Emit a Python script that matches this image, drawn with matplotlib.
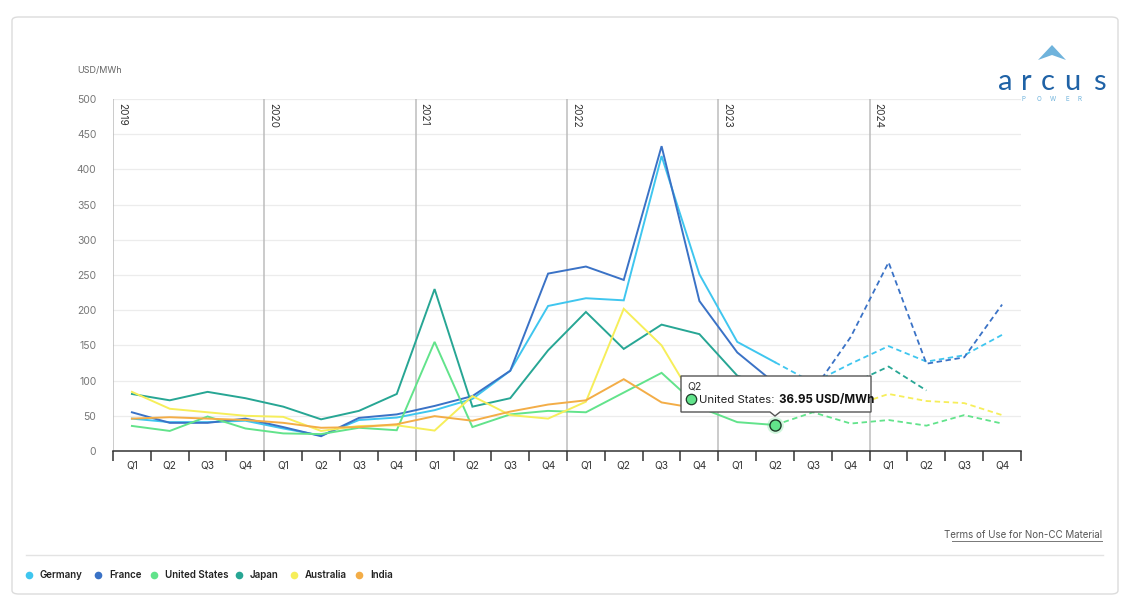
import numpy as np
import matplotlib
matplotlib.use("Agg")
import matplotlib.pyplot as plt
from matplotlib.patches import FancyBboxPatch, Polygon
from matplotlib.lines import Line2D

plt.rcParams['font.family'] = ['Inter', 'DejaVu Sans']

years = ["2019", "2020", "2021", "2022", "2023", "2024"]
quarters = ["Q1", "Q2", "Q3", "Q4"]
nan = np.nan

germany = [46, 41, 41, 43, 32, 22, 44, 47.5, 58, 74, 114, 206,
           217, 214, 419, 251, 155, 126, 97, 124, 149, 127, 136, 165]
france = [55, 40, 40, 46, 34, 21, 47, 52, 64, 78, 114, 252,
          262, 243, 433, 213, 140, 96, 85, 162, 268, 124, 133, 208]
united_states = [35.6, 28.5, 49, 32, 25, 24, 33, 29.5, 155, 34, 52, 57,
                 55, 83, 111, 62, 41, 36.95, 55, 39, 44, 36, 51, 39]
japan = [81, 72, 84, 75, 63, 45, 57, 81, 230, 63, 75, 143,
         197.5, 145, 179.5, 166, 107, 90, 85, 95, 120, 86, nan, nan]
australia = [84, 60, 55, 50, 48.5, 28.5, 35.5, 36.5, 29, 78, 51, 46,
             70, 202, 150, 60, 62, 60, 58, 63, 81, 71, 68, 51]
india = [46, 48, 46, 44, 40, 33, 34, 38, 49.5, 43, 56, 66,
         72, 102, 69, 60, nan, nan, nan, nan, nan, nan, nan, nan]

series_names = ["Germany", "France", "United States", "Japan", "Australia", "India"]
series_values = [germany, france, united_states, japan, australia, india]
colors = ["#3fc6ef", "#3a72c6", "#62e38b", "#27a694", "#f6ee5a", "#f3ad47"]
forecast_start = 17  # index of Q2 2023 (last actual point)

tooltip_series = "United States"
tooltip_index = 17
tooltip_value = 36.95

W, H = 1128, 604
fig = plt.figure(figsize=(W / 100, H / 100), dpi=100)

def fx(x):
    return x / W

def fy(y):
    return 1 - y / H

# card
card = FancyBboxPatch((fx(12), fy(594)), fx(1118) - fx(12), fy(17) - fy(594),
                      boxstyle="round,pad=0,rounding_size=0.006",
                      transform=fig.transFigure, facecolor="white",
                      edgecolor="#dcdcdc", linewidth=1, zorder=-10)
fig.patches.append(card)

ax = fig.add_axes([fx(113), fy(451), fx(1021) - fx(113), fy(99) - fy(451)])
ax.set_facecolor("none")
n = len(years) * len(quarters)
x = np.arange(n)

# gridlines
for v in range(50, 501, 50):
    ax.axhline(v, color="#ececec", lw=0.9, zorder=0)

# year lines
for yi, yr in enumerate(years):
    xb = yi * 4 - 0.5
    ax.axvline(xb, color="#bdbdbd", lw=1.1, zorder=1)
    ax.text(xb + 0.1, 494, yr, rotation=270, va="top", ha="left",
            fontsize=7.2, color="#333333")

for name, vals, c in zip(series_names, series_values, colors):
    v = np.array(vals, dtype=float)
    ax.plot(x[:forecast_start + 1], v[:forecast_start + 1], color=c, lw=1.4,
            zorder=3, solid_joinstyle="miter")
    ax.plot(x[forecast_start:], v[forecast_start:], color=c, lw=1.3,
            linestyle=(0, (3, 2)), zorder=3)

ax.set_xlim(-0.5, n - 0.5)
ax.set_ylim(0, 500)
ax.set_yticks(range(0, 501, 50))
ax.tick_params(axis="y", length=0, pad=12, labelsize=7.5, labelcolor="#777777")
ax.set_xticks(x)
ax.set_xticklabels(quarters * len(years))
ax.tick_params(axis="x", which="major", length=0, pad=7, labelsize=7.3,
               labelcolor="#333333")
ax.set_xticks(np.arange(-0.5, n, 1.0), minor=True)
ax.tick_params(axis="x", which="minor", length=7, width=1.1, color="#333333",
               direction="out")
for s in ["top", "right", "left"]:
    ax.spines[s].set_visible(False)
ax.spines["bottom"].set_color("#333333")
ax.spines["bottom"].set_linewidth(1.1)

# highlighted point
ti = series_names.index(tooltip_series)
ax.plot([tooltip_index], [tooltip_value], "o", ms=12, color=colors[ti], alpha=0.3,
        zorder=4, mec="none")
ax.plot([tooltip_index], [tooltip_value], "o", ms=8, color=colors[ti],
        mec="#1f3b2a", mew=1.0, zorder=5)

# tooltip
bx0, by0, bx1, by1 = 681, 376, 871, 412
tip = Polygon([[fx(bx0), fy(by0)], [fx(bx1), fy(by0)], [fx(bx1), fy(by1)],
               [fx(780), fy(by1)], [fx(775), fy(416)], [fx(770), fy(by1)],
               [fx(bx0), fy(by1)]], closed=True, transform=fig.transFigure,
              facecolor="white", edgecolor="#555555", linewidth=1.0, zorder=10)
fig.patches.append(tip)
fig.text(fx(687), fy(386), "Q2", fontsize=7.5, color="#333333", va="center",
         ha="left", zorder=11)
fig.add_artist(Line2D([fx(691)], [fy(399)], marker="o", ms=7.5,
                      color=colors[ti], mec="#1f3b2a", mew=0.9,
                      transform=fig.transFigure, zorder=11))
fig.text(fx(699), fy(400), f"{tooltip_series}:", fontsize=8.2,
         color="#222222", va="center", ha="left", zorder=11)
fig.text(fx(779), fy(400), f"{tooltip_value:.2f} USD/MWh", fontsize=8.3,
         color="#111111", va="center", ha="left", fontweight="bold", zorder=11)

# unit label
fig.text(fx(77), fy(70), "USD/MWh", fontsize=6.5, color="#666666",
         va="center", ha="left")

# logo
logo_blue = "#1f62a6"
logo_light = "#6fb3dc"
tri = Polygon([[fx(1038), fy(60)], [fx(1052), fy(45)], [fx(1066), fy(60)],
               [fx(1052), fy(55)]], closed=True, transform=fig.transFigure,
              facecolor=logo_light, edgecolor="none")
fig.patches.append(tri)
for ch, cx in zip("arcus", [1005, 1026, 1048, 1072, 1099]):
    fig.text(fx(cx), fy(90), ch, fontsize=21, color=logo_blue, ha="center",
             va="baseline", family=["Lato", "DejaVu Sans"])
for ch, cx in zip("POWER", [1024, 1039, 1053, 1067, 1079]):
    fig.text(fx(cx), fy(99), ch, fontsize=4.5, color=logo_light, ha="center",
             va="center")

# terms
fig.text(fx(1102), fy(535), "Terms of Use for Non-CC Material", fontsize=7,
         color="#555555", ha="right", va="center")
fig.add_artist(Line2D([fx(952), fx(1102)], [fy(540.5), fy(540.5)],
                      color="#777777", lw=0.7, transform=fig.transFigure))

# separator
fig.add_artist(Line2D([fx(26), fx(1103)], [fy(555), fy(555)], color="#e3e3e3",
                      lw=1, transform=fig.transFigure))

# legend
marker_x = [29, 98, 154, 239, 294, 359]
for name, c, mx in zip(series_names, colors, marker_x):
    fig.add_artist(Line2D([fx(mx)], [fy(575)], marker="o", ms=5.5, color=c,
                          mec="none", transform=fig.transFigure))
    fig.text(fx(mx + 11), fy(575), name, fontsize=7, color="#222222",
             ha="left", va="center", fontweight="semibold")

fig.savefig("out.png", dpi=100)
